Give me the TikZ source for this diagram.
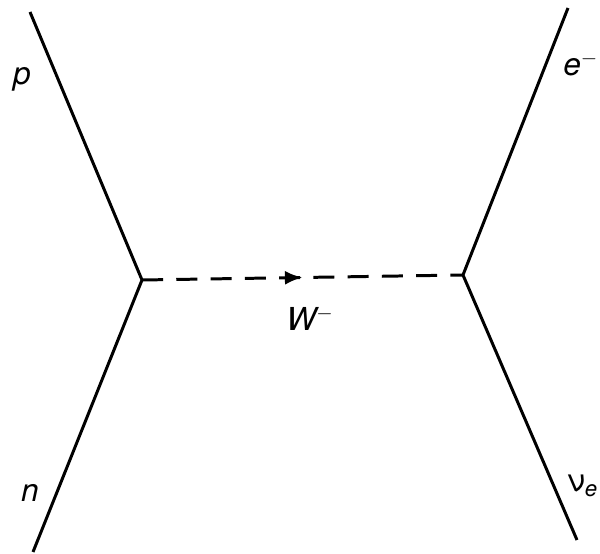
\documentclass[tikz,border=0pt]{standalone}
\usepackage{fontspec}
\setmainfont{TeX Gyre Heros}
\usetikzlibrary{arrows.meta, decorations.markings}
\tikzset{
  fermion/.style={line width=1.7pt}, % solid lines of the quarks and leptons
  boson/.style={line width=1.7pt, dash pattern=on 12pt off 7.5pt,
    postaction={decorate},
    decoration={markings,
      mark=at position 0.5 with {\arrow{Latex[length=10pt,width=8pt]}}}}, % the W line
  particle/.style={font=\fontsize{18pt}{21pt}\selectfont\itshape, inner sep=0pt}, % labels
}
\begin{document}
\begin{tikzpicture}
  \useasboundingbox (0,0) rectangle (12,11.08);
  % vertices
  \coordinate (vleft) at (2.84,5.48);
  \coordinate (vright) at (9.26,5.58);
  % outer ends
  \coordinate (pend) at (0.60,10.84);
  \coordinate (nend) at (0.66,0.04);
  \coordinate (eend) at (11.36,10.92);
  \coordinate (nuend) at (11.54,0.28);

  \draw[fermion] (pend) -- (vleft) -- (nend);
  \draw[fermion] (eend) -- (vright) -- (nuend);
  \draw[boson] (vleft) -- (vright);

  \node[particle] (plabel) at (0.44,9.50) {p};
  \node[particle] (nlabel) at (0.60,1.22) {n};
  \node[particle, anchor=east] (elabel) at (11.97,9.80) {e$^-$};
  \node[particle, anchor=east] (nulabel) at (11.97,1.36) {\upshape ν\textsubscript{\itshape e}};
  \node[particle] (wlabel) at (6.20,4.70) {W$^-$};
\end{tikzpicture}
\end{document}
